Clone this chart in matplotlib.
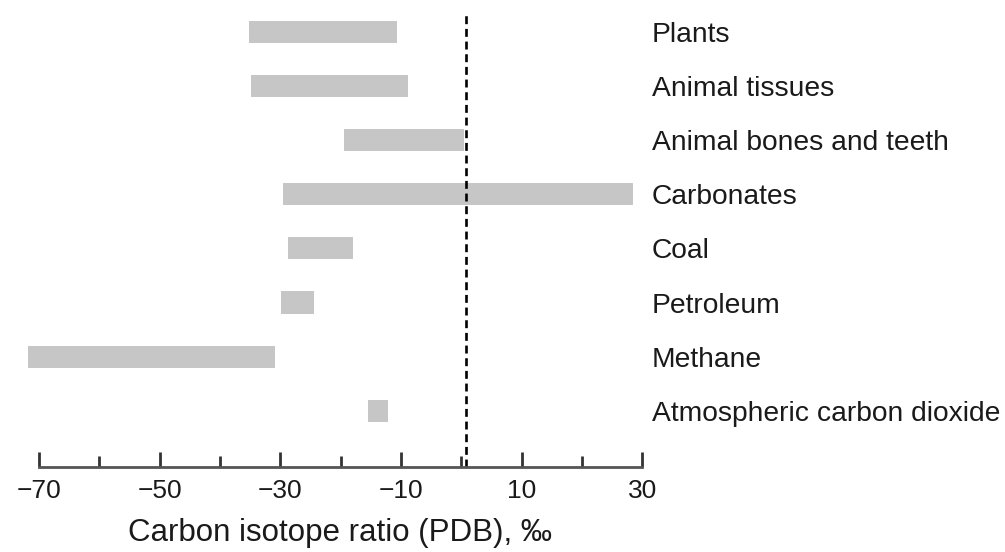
import numpy as np
import matplotlib.pyplot as plt

plt.rcParams['font.family'] = ['Liberation Sans', 'DejaVu Sans']

# delta13C ranges (per mil, PDB) for each carbon reservoir
sources = [
    "Plants",
    "Animal tissues",
    "Animal bones and teeth",
    "Carbonates",
    "Coal",
    "Petroleum",
    "Methane",
    "Atmospheric carbon dioxide",
]
low = [-35.2, -34.9, -19.4, -29.5, -28.7, -29.9, -71.9, -15.4]
high = [-10.6, -8.8, 0.4, 28.5, -17.9, -24.4, -30.8, -12.1]

major_ticks = [-70, -50, -30, -10, 10, 30]
minor_ticks = [-60, -40, -20, 0, 20]
tick_labels = ["\u221270", "\u221250", "\u221230", "\u221210", "10", "30"]

fig = plt.figure(figsize=(10.05, 5.52), dpi=100)
ax = fig.add_axes([0.0208, 0.1545, 0.6183, 0.8225])

y = np.arange(len(sources))
lo = np.array(low)
hi = np.array(high)
ax.barh(y, hi - lo, left=lo, height=0.41, color="#c6c6c6", edgecolor="none")

# reference line at the PDB standard
ax.axvline(0.8, color="black", lw=1.9, dashes=(3, 1.8))

for yi, name in zip(y, sources):
    ax.text(31.6, yi, name, fontsize=20.3, va="center_baseline", ha="left",
            color="#1a1a1a", clip_on=False)

ax.set_xlim(-73, 30)
ax.set_ylim(8.03, -0.35)

for side in ["top", "right", "left"]:
    ax.spines[side].set_visible(False)
ax.spines["bottom"].set_bounds(-70, 30)
ax.spines["bottom"].set_color("#555555")
ax.spines["bottom"].set_linewidth(2)

ax.set_yticks([])
ax.set_xticks(major_ticks)
ax.set_xticklabels(tick_labels)
ax.set_xticks(minor_ticks, minor=True)
ax.tick_params(axis="x", which="major", direction="in", length=11, width=2,
               color="#333333", pad=9, labelsize=19, labelcolor="#1a1a1a")
ax.tick_params(axis="x", which="minor", direction="in", length=8, width=2,
               color="#333333")

# centre the label under the drawn spine (-70..30), not the full axes
ax.set_xlabel("Carbon isotope ratio (PDB), \u2030", fontsize=22.5, labelpad=11,
              color="#1a1a1a", x=0.514)

fig.savefig("out.png", dpi=100)
